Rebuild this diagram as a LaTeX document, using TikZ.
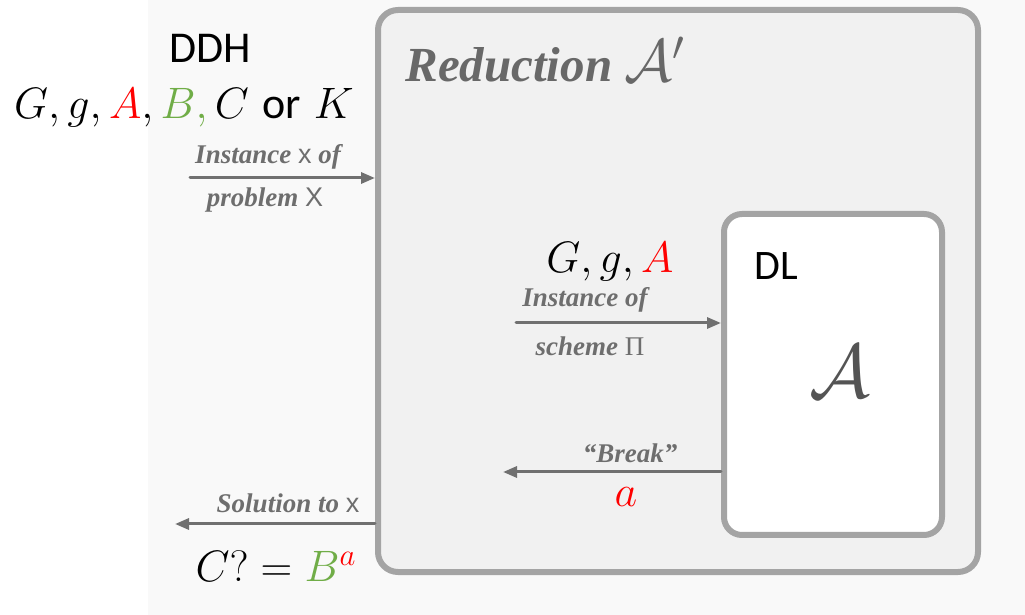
\RequirePackage{fix-cm}
\documentclass[tikz,border=0pt]{standalone}
\usepackage{fontspec}
\newfontfamily\timesfont{Liberation Serif}
\newfontfamily\arialfont{Liberation Sans}
\newfontfamily\calibrifont{Carlito}
\usepackage{tikz}
\usetikzlibrary{arrows.meta}

\definecolor{boxgray}{HTML}{A4A4A4}
\definecolor{arrgray}{HTML}{707070}
\definecolor{lblgray}{HTML}{6E6E6E}
\definecolor{titlegray}{HTML}{686868}
\definecolor{calgray}{HTML}{545454}
\definecolor{bggray}{HTML}{F9F9F9}
\definecolor{outerfill}{HTML}{F1F1F1}
\definecolor{ddhred}{HTML}{FF0000}
\definecolor{ddhgreen}{HTML}{70AD47}

\begin{document}
\begin{tikzpicture}[
		x=0.5pt, y=-0.5pt,
		line cap=round,
		line join=round,
		lbl/.style={font=\timesfont\bfseries\itshape\fontsize{13.5}{16}\selectfont, text=lblgray, inner sep=0pt},
		office/.style={font=\calibrifont\fontsize{21}{25}\selectfont, inner sep=0pt},
		mathtxt/.style={font=\fontsize{22}{26}\selectfont, inner sep=0pt},
		flow/.style={draw=arrgray, line width=1.5pt, -{Triangle[length=7pt,width=5.5pt]}},
		frame/.style={draw=boxgray, line width=3pt}
	]
	
	\useasboundingbox (0,0) rectangle (1025,615);
	\fill[bggray] (148,0) rectangle (1025,615);
	
	% Reduction box
	\node[frame, rounded corners=10pt, fill=outerfill, minimum width=300pt, minimum height=281pt] (red) at (678,291) {};
	\node[font=\timesfont\bfseries\itshape\fontsize{24.5}{28}\selectfont, text=titlegray, anchor=base west, inner sep=0pt] (title) at (405,82) {Reduction {\fontsize{30}{34}\selectfont$\mathcal{A}'$}};
	
	% Adversary box
	\node[frame, rounded corners=9pt, fill=white, minimum width=109pt, minimum height=160.5pt] (adv) at (833,374.5) {};
	\node[office] (dl) at (776,266) {DL};
	\node[text=calgray, font=\fontsize{38}{44}\selectfont, inner sep=0pt] (advsym) at (840,372) {$\mathcal{A}$};
	
	% DDH instance
	\node[mathtxt] (ddh) at (210,48) {\calibrifont DDH};
	\node[mathtxt, anchor=base] (ddhin) at (184,119) {$G, g, \textcolor{ddhred}{A}, \textcolor{ddhgreen}{B,}\, C$ {\calibrifont or} $K$};
	\coordinate (inx) at (190,178);
	\draw[flow] (inx) -- (inx -| red.west);
	\node[lbl] (inxtop) at (268,157) {Instance {\arialfont\mdseries\upshape x} of};
	\node[lbl] (inxbot) at (265,200) {problem {\arialfont\mdseries\upshape X}};
	
	% DL instance
	\node[mathtxt] (advin) at (610,262) {$G, g, \textcolor{ddhred}{A}$};
	\coordinate (inpi) at (516,323);
	\draw[flow] (inpi) -- (inpi -| adv.west);
	\node[lbl] (inpitop) at (585,300) {Instance of};
	\node[lbl] (inpibot) at (590,346) {scheme {\mdseries\upshape Π}};
	
	% Break
	\coordinate (brk) at (503,472);
	\draw[flow] (brk -| adv.west) -- (brk);
	\node[lbl] (brktop) at (630,453) {“Break”};
	\node[mathtxt, text=ddhred] (brkout) at (626,497) {$a$};
	
	% Solution
	\coordinate (sol) at (175,524);
	\draw[flow] (sol -| red.west) -- (sol);
	\node[lbl] (soltop) at (288,503) {Solution to {\arialfont\mdseries\upshape x}};
	\node[mathtxt] (solout) at (276,566) {$C?=\textcolor{ddhgreen}{B}^{\textcolor{ddhred}{a}}$};
	
\end{tikzpicture}
\end{document}
